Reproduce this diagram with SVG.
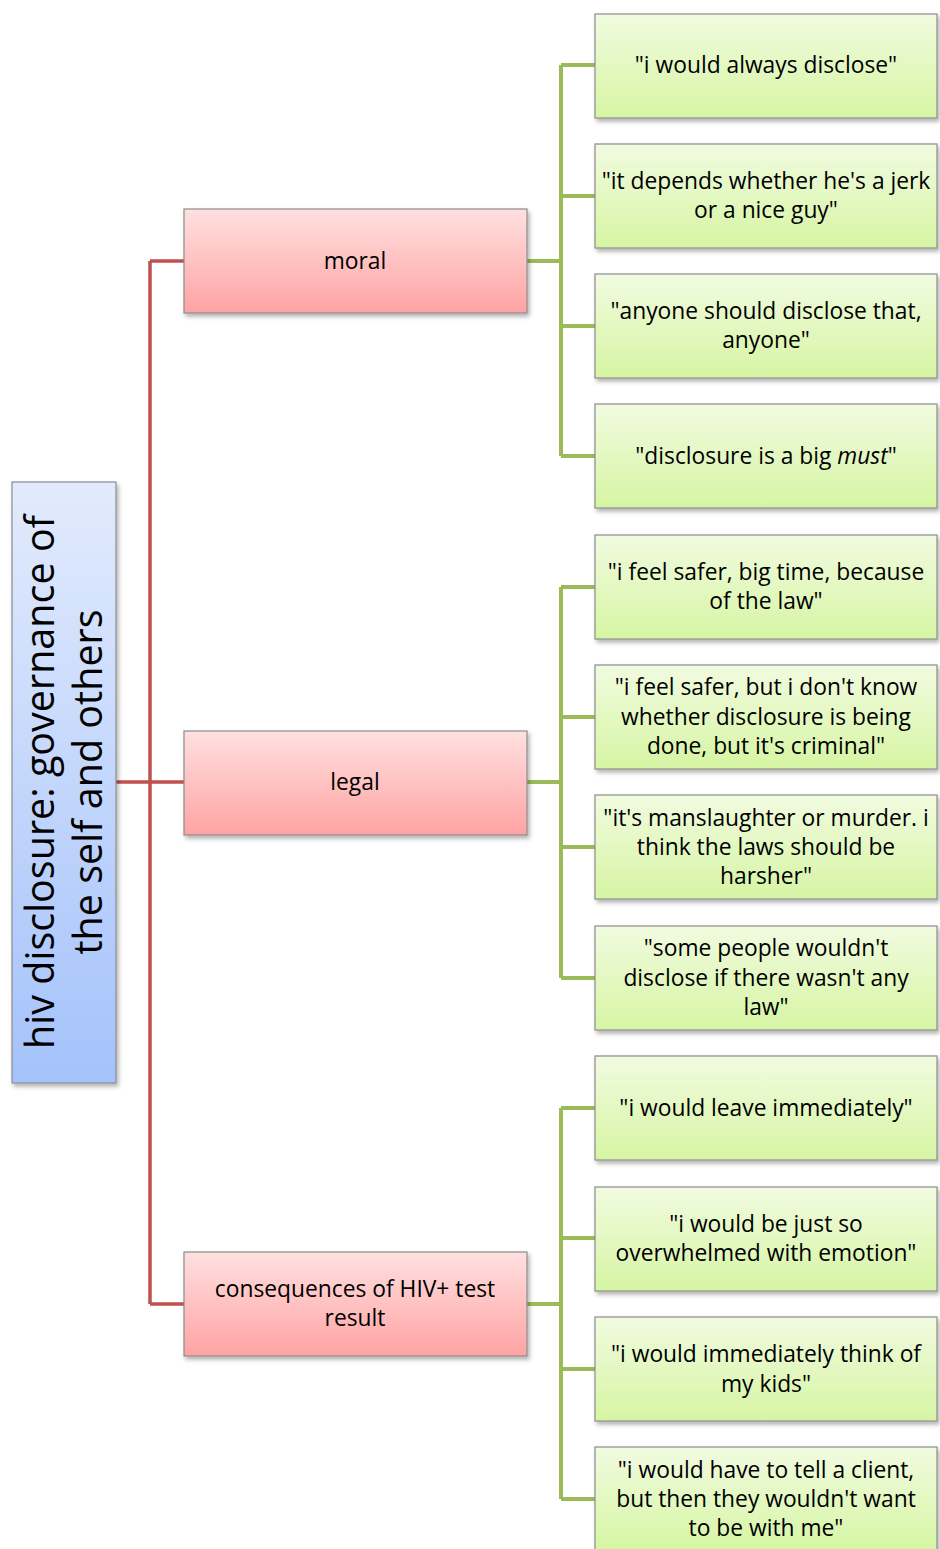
<svg xmlns="http://www.w3.org/2000/svg" width="940" height="1549" viewBox="0 0 940 1549">
<style>
text{font-family:"Open Sans","Liberation Sans",sans-serif;fill:#000;text-anchor:middle}
.t{font-size:22.8px}
.root{font-size:39.5px}
.box{stroke:#8c8c8c;stroke-width:1.2}
.red{stroke:#c0504d;stroke-width:3.5;fill:none}
.grn{stroke:#9bbb59;stroke-width:4;fill:none}
</style>
<defs>
<linearGradient id="gb" x1="0" y1="0" x2="0" y2="1"><stop offset="0" stop-color="#e2ebfd"/><stop offset="1" stop-color="#a4c2fb"/></linearGradient>
<linearGradient id="gp" x1="0" y1="0" x2="0" y2="1"><stop offset="0" stop-color="#ffe0e0"/><stop offset="1" stop-color="#ffa3a3"/></linearGradient>
<linearGradient id="gg" x1="0" y1="0" x2="0" y2="1"><stop offset="0" stop-color="#f1fbe0"/><stop offset="1" stop-color="#d6f5a3"/></linearGradient>
<filter id="sh" x="-10%" y="-10%" width="130%" height="130%"><feDropShadow dx="2" dy="3" stdDeviation="2" flood-color="#000" flood-opacity="0.3"/></filter>
</defs>
<g id="connectors">
<path class="red" d="M116 782H184M150 261V1304M150 261H184M150 1304H184"/>
<path class="grn" d="M527 261H561M561 65V456M561 65H595M561 196H595M561 326H595M561 456H595"/>
<path class="grn" d="M527 782H561M561 587V978M561 587H595M561 717H595M561 847H595M561 978H595"/>
<path class="grn" d="M527 1304H561M561 1108V1499M561 1108H595M561 1238H595M561 1369H595M561 1499H595"/>
</g>
<g id="root"><rect class="box" x="12" y="482" width="104" height="601" fill="url(#gb)" filter="url(#sh)"/>
<g transform="translate(64,782) rotate(-90)"><text class="root" x="0" y="-10">hiv disclosure: governance of</text><text class="root" x="0" y="38">the self and others</text></g></g>
<g id="moral"><rect class="box" x="184" y="209" width="343" height="104" fill="url(#gp)" filter="url(#sh)"/><text class="t" x="355" y="269">moral</text></g>
<g id="legal"><rect class="box" x="184" y="731" width="343" height="104" fill="url(#gp)" filter="url(#sh)"/><text class="t" x="355" y="790">legal</text></g>
<g id="consequences"><rect class="box" x="184" y="1252" width="343" height="104" fill="url(#gp)" filter="url(#sh)"/><text class="t" x="355" y="1297">consequences of HIV+ test</text><text class="t" x="355" y="1326">result</text></g>
<g id="leaf1"><rect class="box" x="595" y="14" width="342" height="104" fill="url(#gg)" filter="url(#sh)"/><text class="t" x="766" y="73">"i would always disclose"</text></g>
<g id="leaf2"><rect class="box" x="595" y="144" width="342" height="104" fill="url(#gg)" filter="url(#sh)"/><text class="t" x="766" y="189">"it depends whether he's a jerk</text><text class="t" x="766" y="218">or a nice guy"</text></g>
<g id="leaf3"><rect class="box" x="595" y="274" width="342" height="104" fill="url(#gg)" filter="url(#sh)"/><text class="t" x="766" y="319">"anyone should disclose that,</text><text class="t" x="766" y="348">anyone"</text></g>
<g id="leaf4"><rect class="box" x="595" y="404" width="342" height="104" fill="url(#gg)" filter="url(#sh)"/><text class="t" x="766" y="464">"disclosure is a big <tspan font-style="italic">must</tspan>"</text></g>
<g id="leaf5"><rect class="box" x="595" y="535" width="342" height="104" fill="url(#gg)" filter="url(#sh)"/><text class="t" x="766" y="580">"i feel safer, big time, because</text><text class="t" x="766" y="609">of the law"</text></g>
<g id="leaf6"><rect class="box" x="595" y="665" width="342" height="104" fill="url(#gg)" filter="url(#sh)"/><text class="t" x="766" y="695">"i feel safer, but i don't know</text><text class="t" x="766" y="725">whether disclosure is being</text><text class="t" x="766" y="754">done, but it's criminal"</text></g>
<g id="leaf7"><rect class="box" x="595" y="795" width="342" height="104" fill="url(#gg)" filter="url(#sh)"/><text class="t" x="766" y="826">"it's manslaughter or murder. i</text><text class="t" x="766" y="855">think the laws should be</text><text class="t" x="766" y="884">harsher"</text></g>
<g id="leaf8"><rect class="box" x="595" y="926" width="342" height="104" fill="url(#gg)" filter="url(#sh)"/><text class="t" x="766" y="956">"some people wouldn't</text><text class="t" x="766" y="986">disclose if there wasn't any</text><text class="t" x="766" y="1015">law"</text></g>
<g id="leaf9"><rect class="box" x="595" y="1056" width="342" height="104" fill="url(#gg)" filter="url(#sh)"/><text class="t" x="766" y="1116">"i would leave immediately"</text></g>
<g id="leaf10"><rect class="box" x="595" y="1187" width="342" height="104" fill="url(#gg)" filter="url(#sh)"/><text class="t" x="766" y="1232">"i would be just so</text><text class="t" x="766" y="1261">overwhelmed with emotion"</text></g>
<g id="leaf11"><rect class="box" x="595" y="1317" width="342" height="104" fill="url(#gg)" filter="url(#sh)"/><text class="t" x="766" y="1362">"i would immediately think of</text><text class="t" x="766" y="1392">my kids"</text></g>
<g id="leaf12"><rect class="box" x="595" y="1447" width="342" height="104" fill="url(#gg)" filter="url(#sh)"/><text class="t" x="766" y="1478">"i would have to tell a client,</text><text class="t" x="766" y="1507">but then they wouldn't want</text><text class="t" x="766" y="1536">to be with me"</text></g>
</svg>
